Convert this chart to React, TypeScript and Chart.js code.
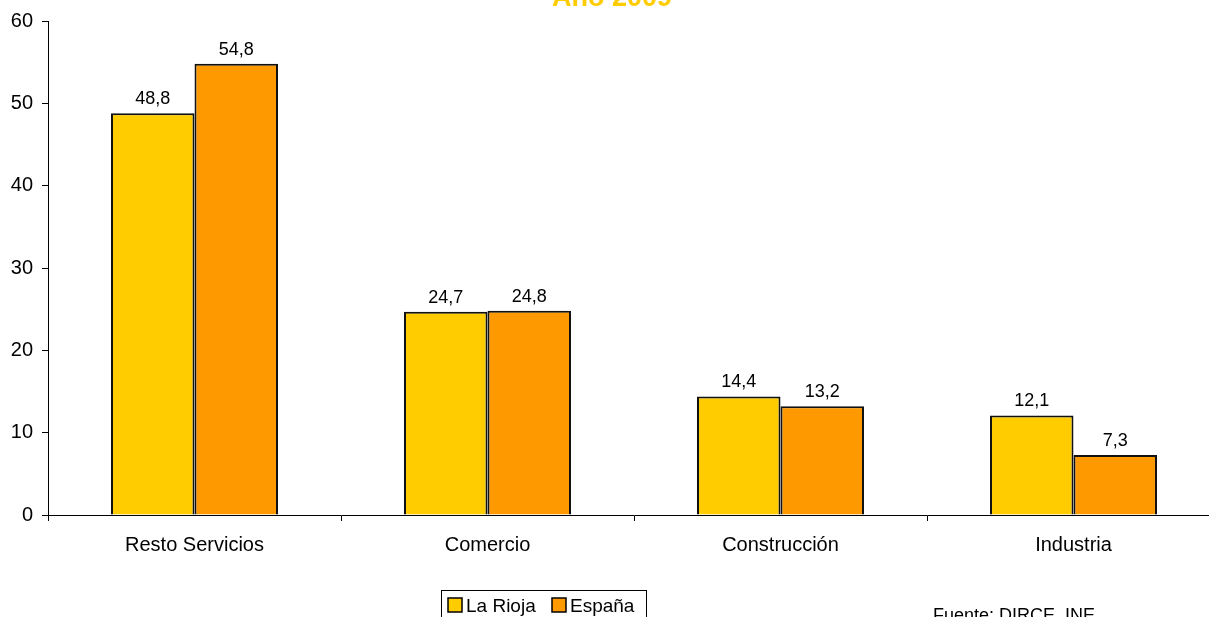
import React, { useEffect, useRef } from "react";
import { Chart, registerables } from "chart.js";

Chart.register(...registerables);

const categories = ["Resto Servicios", "Comercio", "Construcción", "Industria"];
const laRioja = [48.8, 24.7, 14.4, 12.1];
const espana = [54.8, 24.8, 13.2, 7.3];
const seriesNames = ["La Rioja", "España"];
const seriesColors = ["#FFCC00", "#FF9900"];
const yMin = 0;
const yMax = 60;
const yStep = 10;
const titleText = "Año 2009";
const sourceText = "Fuente: DIRCE. INE";

const FONT = "'Liberation Sans', Arial, Helvetica, sans-serif";

const overlayPlugin = {
  id: "overlay",
  afterDatasetsDraw(chart: any) {
    const ctx = chart.ctx;
    ctx.save();
    ctx.fillStyle = "#000";
    ctx.font = `18px ${FONT}`;
    ctx.textAlign = "center";
    ctx.textBaseline = "alphabetic";
    chart.data.datasets.forEach((ds: any, di: number) => {
      const meta = chart.getDatasetMeta(di);
      meta.data.forEach((bar: any, i: number) => {
        const v = ds.data[i];
        ctx.fillText(v.toFixed(1).replace(".", ","), bar.x, bar.y - 9);
      });
    });
    ctx.restore();
  },
  afterDraw(chart: any) {
    const ctx = chart.ctx;
    ctx.save();
    // Title (partly clipped at top)
    ctx.fillStyle = "#FFCC00";
    ctx.font = `bold 27px ${FONT}`;
    ctx.textAlign = "center";
    ctx.textBaseline = "alphabetic";
    ctx.fillText(titleText, 612, 6);

    // Legend
    ctx.font = `19px ${FONT}`;
    ctx.textAlign = "left";
    const boxX = 441.5;
    const boxY = 590.5;
    const sq = 14;
    const itemX = [448, 552];
    ctx.strokeStyle = "#000";
    ctx.lineWidth = 1;
    ctx.strokeRect(boxX, boxY, 205, 40);
    seriesNames.forEach((n, i) => {
      const px = itemX[i];
      ctx.fillStyle = seriesColors[i];
      ctx.fillRect(px, 598, sq, sq);
      ctx.strokeStyle = "#000";
      ctx.lineWidth = 1.5;
      ctx.strokeRect(px, 598, sq, sq);
      ctx.fillStyle = "#000";
      ctx.fillText(n, px + sq + 4, 612);
    });

    // Source
    ctx.font = `18px ${FONT}`;
    ctx.fillStyle = "#000";
    ctx.fillText(sourceText, 933, 621);
    ctx.restore();
  },
};

export default function App() {
  const ref = useRef<HTMLCanvasElement | null>(null);
  useEffect(() => {
    if (!ref.current) return;
    const chart = new Chart(ref.current, {
      type: "bar",
      data: {
        labels: categories,
        datasets: [
          {
            label: seriesNames[0],
            data: laRioja,
            backgroundColor: seriesColors[0],
            borderColor: "#111",
            borderWidth: 2,
            barPercentage: 1,
            categoryPercentage: 0.57,
          },
          {
            label: seriesNames[1],
            data: espana,
            backgroundColor: seriesColors[1],
            borderColor: "#111",
            borderWidth: 2,
            barPercentage: 1,
            categoryPercentage: 0.57,
          },
        ],
      },
      options: {
        responsive: false,
        animation: false,
        devicePixelRatio: 1,
        layout: { padding: { left: 0, right: 20, top: 20, bottom: 0 } },
        plugins: {
          legend: { display: false },
          title: { display: false },
          tooltip: { enabled: false },
        },
        scales: {
          x: {
            offset: true,
            grid: {
              offset: true,
              drawOnChartArea: false,
              drawTicks: true,
              tickLength: 6,
              color: "#000",
            },
            border: { display: true, color: "#000", width: 1 },
            ticks: {
              color: "#000",
              padding: 12,
              font: { family: FONT, size: 20 },
              maxRotation: 0,
              autoSkip: false,
            },
            afterFit(scale: any) {
              scale.height = 102;
            },
          },
          y: {
            min: yMin,
            max: yMax,
            ticks: {
              stepSize: yStep,
              color: "#000",
              padding: 9,
              font: { family: FONT, size: 20 },
            },
            grid: {
              drawOnChartArea: false,
              drawTicks: true,
              tickLength: 6,
              color: "#000",
            },
            border: { display: true, color: "#000", width: 1 },
            afterFit(scale: any) {
              scale.width = 48;
            },
          },
        },
      },
      plugins: [overlayPlugin],
    });
    return () => chart.destroy();
  }, []);

  return (
    <div
      style={{
        position: "fixed",
        left: 0,
        top: 0,
        width: 1209,
        height: 617,
        overflow: "hidden",
        background: "#fff",
      }}
    >
      <canvas
        ref={ref}
        width={1240}
        height={617}
        style={{ display: "block", width: 1240, height: 617 }}
      />
    </div>
  );
}
